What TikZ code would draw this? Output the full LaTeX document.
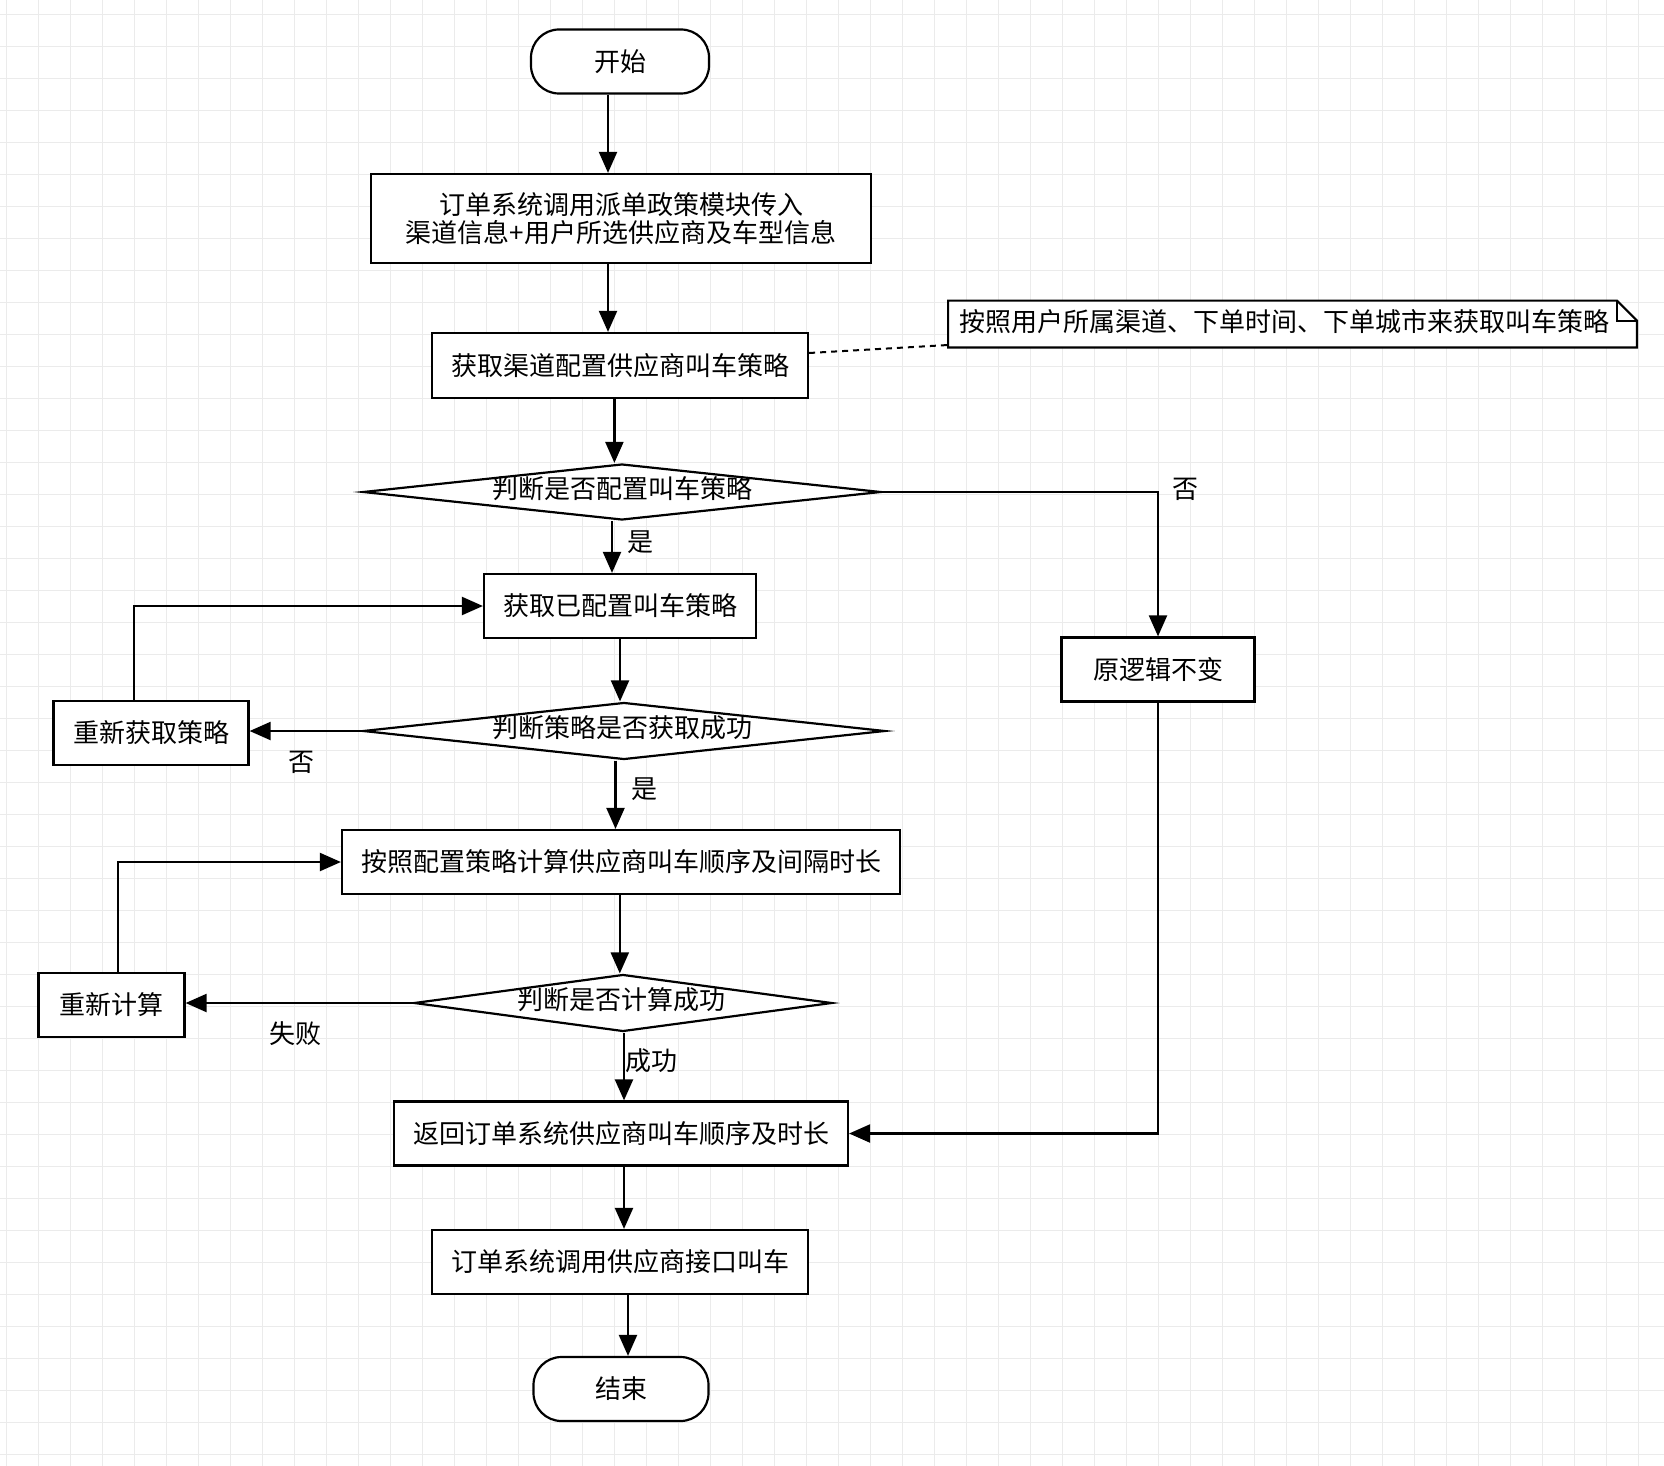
\documentclass[tikz,border=0pt]{standalone}
\usepackage{fontspec}
\setmainfont{Noto Sans CJK SC}
\usetikzlibrary{arrows.meta,shapes.geometric,calc}
\begin{document}
\begin{tikzpicture}[x=0.5pt,y=-0.5pt,
  every node/.style={font=\fontsize{13}{13.8}\selectfont},
  boxst/.style={draw,line width=1.1pt,fill=white,inner sep=0pt,align=center},
  term/.style={boxst,rounded corners=14pt},
  dec/.style={draw,line width=1.1pt,fill=white,shape=diamond,inner sep=0pt},
  arr/.style={line width=1.1pt,-{Triangle[length=10.5pt,width=9pt]}},
  lbl/.style={inner sep=0pt},
  gridln/.style={draw=black!8,line width=0.5pt}]
\useasboundingbox (0,0) rectangle (1664,1466);
\fill[white] (0,0) rectangle (1664,1466);
\foreach \i in {0,...,51} \draw[gridln] ({6.5+32*\i},0) -- ({6.5+32*\i},1466);
\foreach \j in {0,...,45} \draw[gridln] (0,{14.5+32*\j}) -- (1664,{14.5+32*\j});

% nodes
\node[term,minimum width=89pt,minimum height=32pt] (start) at (620,61.5) {开始};
\node[boxst,minimum width=250pt,minimum height=44.5pt] (b2) at (621,218.5) {订单系统调用派单政策模块传入\\渠道信息+用户所选供应商及车型信息};
\node[boxst,minimum width=188pt,minimum height=32.5pt] (b3) at (620,365.5) {获取渠道配置供应商叫车策略};
\node[inner sep=0pt,minimum width=344pt,minimum height=23pt] (note) at (1292.5,324) {};
\draw[line width=1.1pt,fill=white] (note.north west) -- ([xshift=-10pt]note.north east) -- ([yshift=-10pt]note.north east) -- (note.south east) -- (note.south west) -- cycle;
\draw[line width=1.1pt] ([xshift=-10pt]note.north east) -- ([xshift=-10pt,yshift=-10pt]note.north east) -- ([yshift=-10pt]note.north east);
\node[lbl] (notet) at (1284.5,322) {按照用户所属渠道、下单时间、下单城市来获取叫车策略};

\node[dec,minimum width=259pt,minimum height=28pt] (d1) at (622,492) {};
\node[lbl] (d1t) at (622,489) {判断是否配置叫车策略};
\node[boxst,minimum width=136pt,minimum height=32pt] (b4) at (620,606) {获取已配置叫车策略};
\node[boxst,minimum width=96.5pt,minimum height=32pt] (b5) at (1158,669.5) {原逻辑不变};
\node[boxst,minimum width=97.5pt,minimum height=32pt] (b6) at (151,733) {重新获取策略};
\node[dec,minimum width=261pt,minimum height=28.5pt] (d2) at (624,731) {};
\node[lbl] (d2t) at (622,728) {判断策略是否获取成功};
\node[boxst,minimum width=279pt,minimum height=32pt] (b7) at (621,862) {按照配置策略计算供应商叫车顺序及间隔时长};
\node[boxst,minimum width=73pt,minimum height=32pt] (b8) at (111.5,1005) {重新计算};
\node[dec,minimum width=209pt,minimum height=28.5pt] (d3) at (623,1003) {};
\node[lbl] (d3t) at (621,1000) {判断是否计算成功};
\node[boxst,minimum width=227pt,minimum height=32pt] (b9) at (621,1133.5) {返回订单系统供应商叫车顺序及时长};
\node[boxst,minimum width=188pt,minimum height=32pt] (b10) at (620,1262) {订单系统调用供应商接口叫车};
\node[term,minimum width=87.5pt,minimum height=32pt] (end) at (621,1389) {结束};

% connectors
\draw[arr] ([xshift=-6pt]start.south) -- ([xshift=-6pt]start.south |- b2.north);
\draw[arr] ([xshift=-6.5pt]b2.south) -- ([xshift=-6.5pt]b2.south |- b3.north);
\draw[arr] ([xshift=-2.8pt]b3.south) -- ([xshift=-2.8pt]b3.south |- d1.north);
\draw[dashed,dash pattern=on 3pt off 2.5pt,line width=1pt] ([yshift=6.25pt]b3.east) -- ([yshift=-10.5pt]note.west);
\draw[arr] ([xshift=-5pt]d1.south) -- ([xshift=-5pt]d1.south |- b4.north);
\node[lbl] (l1) at (640,542) {是};
\draw[arr] (d1.east) -| (b5.north);
\node[lbl] (l2) at (1185,489) {否};
\draw[arr] (b4.south) -- (b4.south |- d2.north);
\draw[arr] (d2.west) -- (d2.west -| b6.east);
\node[lbl] (l3) at (301,762) {否};
\draw[arr] ([xshift=-8.5pt]b6.north) |- (b4.west);
\draw[arr] ([xshift=-4.25pt]d2.south) -- ([xshift=-4.25pt]d2.south |- b7.north);
\node[lbl] (l4) at (644,789) {是};
\draw[arr] ([xshift=-0.6pt]b7.south) -- ([xshift=-0.6pt]b7.south |- d3.north);
\draw[arr] (d3.west) -- (d3.west -| b8.east);
\node[lbl] (l5) at (295,1034) {失败};
\draw[arr] ([xshift=3.15pt]b8.north) |- (b7.west);
\draw[arr] ([xshift=0.5pt]d3.south) -- ([xshift=0.5pt]d3.south |- b9.north);
\node[lbl] (l6) at (651,1061) {成功};
\draw[arr] (b5.south) |- (b9.east);
\draw[arr] ([xshift=1.5pt]b9.south) -- ([xshift=1.5pt]b9.south |- b10.north);
\draw[arr] ([xshift=4pt]b10.south) -- ([xshift=4pt]b10.south |- end.north);
\end{tikzpicture}
\end{document}
